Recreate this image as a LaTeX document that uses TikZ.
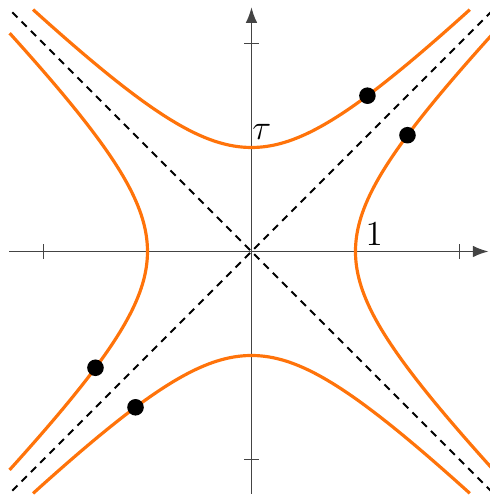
\documentclass[tikz,border=0pt]{standalone}
\usepackage{tikz}
\usetikzlibrary{arrows.meta}
\definecolor{hyporange}{RGB}{255,115,10}
\definecolor{axisgray}{RGB}{68,68,68}
\tikzset{
  axisline/.style={axisgray,line width=0.75pt,-{Latex[length=6.5pt,width=4.8pt]}},
  tickmark/.style={axisgray,line width=0.75pt},
  worldline/.style={hyporange,line width=1.3pt},
  lightcone/.style={black,line width=0.85pt,dash pattern=on 3pt off 2.4pt},
  event/.style={circle,fill=black,inner sep=0pt,minimum size=6.8pt}
}
\begin{document}
\begin{tikzpicture}[x=1.5cm,y=1.5cm,every node/.style={font=\fontsize{14}{16}\selectfont}]
\useasboundingbox (-2.418,-2.351) rectangle (2.284,2.418);
\coordinate (xmin) at (-2.33,0);
\coordinate (xmax) at (2.28,0);
\coordinate (ymin) at (0,-2.33);
\coordinate (ymax) at (0,2.35);
\draw[axisline] (xmin) -- (xmax);
\draw[axisline] (ymin) -- (ymax);
\foreach \t in {-2,2} {
  \draw[tickmark] (\t,-0.07) -- (\t,0.07);
  \draw[tickmark] (-0.07,\t) -- (0.07,\t);
}
% light cone
\draw[lightcone] (-2.3,-2.3) -- (2.3,2.3);
\draw[lightcone] (-2.3,2.3) -- (2.3,-2.3);
% hyperbolas
\draw[worldline] plot[domain=-2.1:2.1,samples=90,smooth] (\x,{sqrt(1+\x*\x)});
\draw[worldline] plot[domain=-2.1:2.1,samples=90,smooth] (\x,{-sqrt(1+\x*\x)});
\draw[worldline] plot[domain=-2.1:2.1,samples=90,smooth] ({sqrt(1+\x*\x)},\x);
\draw[worldline] plot[domain=-2.1:2.1,samples=90,smooth] ({-sqrt(1+\x*\x)},\x);
\node (tau) at (0.1,1.15) {$\tau$};
\node (one) at (1.18,0.17) {$1$};
\node[event] (ev1) at (1.115,1.498) {};
\node[event] (ev2) at (1.5,1.118) {};
\node[event] (ev3) at (-1.5,-1.118) {};
\node[event] (ev4) at (-1.115,-1.498) {};
\end{tikzpicture}
\end{document}
